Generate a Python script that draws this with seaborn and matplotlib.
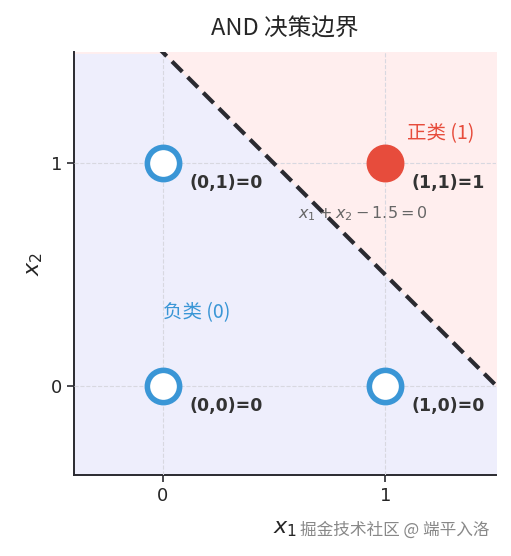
import numpy as np
import pandas as pd
import matplotlib.pyplot as plt
import seaborn as sns

sns.set_theme(style="white")
plt.rcParams["font.family"] = ["DejaVu Sans", "Noto Sans CJK SC"]
plt.rcParams["mathtext.fontset"] = "dejavusans"

# AND truth table
x1 = [0, 0, 1, 1]
x2 = [0, 1, 0, 1]
out = [0, 0, 0, 1]
labels = ["(0,0)=0", "(0,1)=0", "(1,0)=0", "(1,1)=1"]

# boundary x1 + x2 - 1.5 = 0
w = [1, 1]
b = -1.5

blue = "#3a96d6"
red = "#e74c3c"

df = pd.DataFrame({"x1": x1, "x2": x2, "out": out, "label": labels})

fig, ax = plt.subplots(figsize=(5.11, 5.56), dpi=100)
xmin, xmax, ymin, ymax = -0.4, 1.5, -0.4, 1.5

xs = np.linspace(xmin, xmax, 200)
ys = -(w[0] * xs + b) / w[1]
ax.fill_between(xs, ymin, np.clip(ys, ymin, ymax), color="#eeeefc", zorder=0)
ax.fill_between(xs, np.clip(ys, ymin, ymax), ymax, color="#ffeeee", zorder=0)
sns.lineplot(x=xs, y=ys, ax=ax, color="#2a2a30", lw=3, linestyle=(0, (3.5, 1.8)), zorder=3)

neg = df[df.out == 0]
pos = df[df.out == 1]
sns.scatterplot(data=neg, x="x1", y="x2", ax=ax, s=540, facecolor="white",
                edgecolor=blue, linewidth=4, zorder=4)
sns.scatterplot(data=pos, x="x1", y="x2", ax=ax, s=690, color=red,
                edgecolor=red, linewidth=1, zorder=4)

for _, r in df.iterrows():
    ax.text(r.x1 + 0.12, r.x2 - 0.09, r.label, fontsize=12.5, fontweight="bold",
            color="#333333", ha="left", va="center", zorder=5)

ax.text(0.9, 0.775, r"$x_1 + x_2 - 1.5 = 0$", fontsize=11.5, color="#666666",
        ha="center", va="center", zorder=5)
ax.text(1.1, 1.135, "正类 (1)", fontsize=14, color=red, ha="left", va="center",
        family=["Noto Sans CJK SC", "DejaVu Sans"])
ax.text(0.0, 0.33, "负类 (0)", fontsize=14, color=blue, ha="left", va="center",
        family=["Noto Sans CJK SC", "DejaVu Sans"])

ax.set_xlim(xmin, xmax)
ax.set_ylim(ymin, ymax)
ax.set_xticks([0, 1])
ax.set_yticks([0, 1])
ax.grid(True, linestyle="--", color="#d8d8e0", lw=0.8)
ax.set_axisbelow(False)
for sp in ["top", "right"]:
    ax.spines[sp].set_visible(False)
for sp in ["left", "bottom"]:
    ax.spines[sp].set_color("#2a2a30")
    ax.spines[sp].set_linewidth(1.4)
ax.tick_params(axis="both", length=5, width=1.2, color="#2a2a30", labelsize=13,
               bottom=True, left=True)
ax.set_xlabel(r"$x_1$", fontsize=16, labelpad=10)
ax.set_ylabel(r"$x_2$", fontsize=16)
ax.set_title("AND 决策边界", fontsize=17, pad=12,
             family=["Noto Sans CJK SC", "DejaVu Sans"])
ax.set_aspect("equal")

fig.subplots_adjust(left=0.143, right=0.973, bottom=0.146, top=0.906)
fig.text(0.588, 0.047, "掘金技术社区 @ 端平入洛", fontsize=12, color="#888888",
         ha="left", va="center", family=["Noto Sans CJK SC", "DejaVu Sans"])
fig.savefig("out.png", dpi=100)
